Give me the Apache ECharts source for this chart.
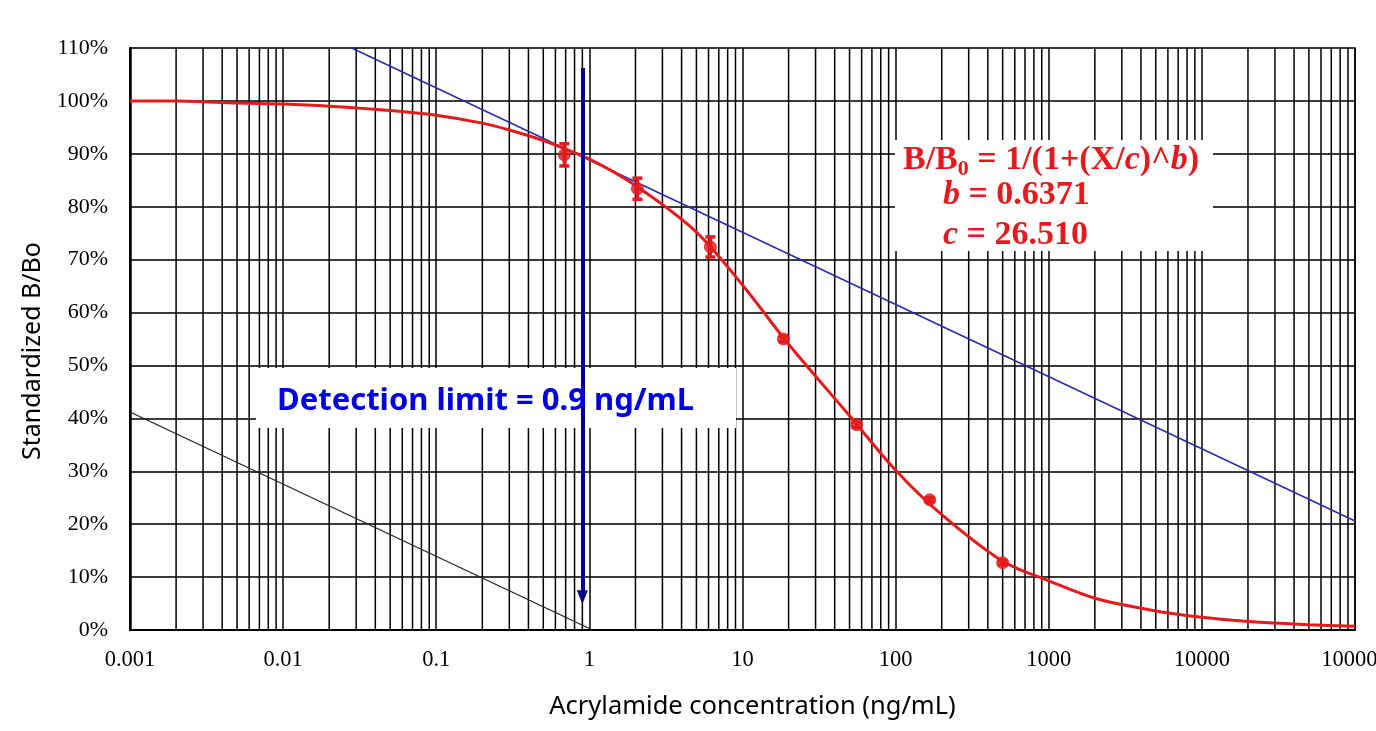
<!DOCTYPE html>
<html>
<head>
<meta charset="utf-8">
<script src="https://cdn.jsdelivr.net/npm/echarts@6/dist/echarts.min.js"></script>
<style>
  html, body { margin: 0; padding: 0; background: #fff; overflow: hidden; }
  #chart { width: 1376px; height: 731px; }
</style>
</head>
<body>
<div id="chart"></div>
<script>
// measured standards (concentration ng/mL, B/Bo %, error %)
const stdConc = [0.686, 2.06, 6.17, 18.5, 55.6, 167, 500];
const stdBB0 = [89.8, 83.4, 72.4, 55.0, 38.8, 24.6, 12.7];
const stdErr = [2.1, 2.0, 1.9, 0.5, 0.5, 0.4, 0.4];

// fitted 4PL curve
const fitConc = [0.001, 0.002, 0.005, 0.01, 0.02, 0.05, 0.1, 0.2, 0.3, 0.5, 1, 2, 5, 10, 20, 50, 100, 200, 500, 1000, 2000, 5000, 10000, 20000, 50000, 100000];
const fitBB0 = [100, 100, 99.6, 99.4, 99.0, 98.2, 97.3, 95.8, 94.5, 92.5, 89.0, 84.0, 75.2, 65.2, 54.0, 40.5, 30.2, 21.8, 13.0, 9.3, 6.0, 3.6, 2.4, 1.6, 1.0, 0.7];

// tangent at the top plateau and its parallel
const tangentConc = [0.028, 100000];
const tangentBB0 = [110, 20.6];
const parallelConc = [0.001, 1.05];
const parallelBB0 = [41.2, 0];

// detection limit arrow
const lodConc = 0.9;
const lodArrow = [106.2, 6.2];

const xTickLabels = ['0.001', '0.01', '0.1', '1', '10', '100', '1000', '10000', '100000'];
const minorMult = [2, 3, 4, 5, 6, 7, 8, 9];
const decades = [0.001, 0.01, 0.1, 1, 10, 100, 1000, 10000];

const minorGrid = [];
for (const d of decades) {
    for (const m of minorMult) minorGrid.push([d * m]);
}

const RED = '#e41a1c';
const EQ_FONT = 'Liberation Serif';
const chart = echarts.init(document.getElementById('chart'));

chart.setOption({
    animation: false,
    grid: {
        left: 130, right: 21, top: 48, bottom: 101,
        outerBoundsMode: 'none', containLabel: false,
        show: true, borderColor: '#000', borderWidth: 1.5
    },
    xAxis: {
        type: 'log', logBase: 10, min: 0.001, max: 100000, splitNumber: 8,
        name: 'Acrylamide concentration (ng/mL)', nameLocation: 'middle', nameGap: 64,
        nameTextStyle: { fontFamily: 'Noto Sans', fontSize: 25.5, color: '#000', padding: [0, 0, 0, 20] },
        axisLine: { lineStyle: { color: '#000', width: 2 } },
        axisTick: { show: false },
        axisLabel: {
            fontFamily: 'Liberation Serif', fontSize: 22.5, color: '#000', margin: 19,
            showMinLabel: true, showMaxLabel: true, hideOverlap: false,
            formatter: v => xTickLabels[Math.round(Math.log10(v)) + 3]
        },
        splitLine: { show: true, lineStyle: { color: '#000', width: 1.5 } }
    },
    yAxis: {
        type: 'value', min: 0, max: 110, interval: 10,
        name: 'Standardized B/Bo', nameLocation: 'middle', nameGap: 84,
        nameTextStyle: { fontFamily: 'Noto Sans', fontSize: 25, color: '#000', padding: [0, 24, 0, 0] },
        axisLine: { show: true, lineStyle: { color: '#000', width: 2.5 } },
        axisTick: { show: false },
        axisLabel: { fontFamily: 'Liberation Serif', fontSize: 22, color: '#000', margin: 22, formatter: '{value}%' },
        splitLine: { lineStyle: { color: '#3a3a3a', width: 2 } }
    },
    graphic: [
        { type: 'rect', z: 5, shape: { x: 256, y: 368, width: 480, height: 60 }, style: { fill: '#fff' } },
        { type: 'rect', z: 5, shape: { x: 895, y: 140, width: 318, height: 111 }, style: { fill: '#fff' } },
        {
            type: 'text', z: 20, left: 277, top: 386,
            style: { text: 'Detection limit = 0.9 ng/mL', fill: '#0000e6', font: 'bold 31px "Noto Sans"' }
        },
        {
            type: 'text', z: 20, left: 903, top: 143,
            style: {
                text: '{n|B/B}{s|0}{n| = 1/(1+(X/}{i|c}{n|)^}{i|b}{n|)}',
                rich: {
                    n: { fill: RED, fontFamily: EQ_FONT, fontWeight: 'bold', fontSize: 34, lineHeight: 40 },
                    i: { fill: RED, fontFamily: EQ_FONT, fontWeight: 'bold', fontStyle: 'italic', fontSize: 34, lineHeight: 40 },
                    s: { fill: RED, fontFamily: EQ_FONT, fontWeight: 'bold', fontSize: 22, lineHeight: 40, verticalAlign: 'bottom', padding: [14, 0, 0, 0] }
                }
            }
        },
        {
            type: 'text', z: 20, left: 943, top: 178,
            style: {
                text: '{i|b}{n| = 0.6371}\n{i|c}{n| = 26.510}',
                rich: {
                    n: { fill: RED, fontFamily: EQ_FONT, fontWeight: 'bold', fontSize: 34, lineHeight: 40 },
                    i: { fill: RED, fontFamily: EQ_FONT, fontWeight: 'bold', fontStyle: 'italic', fontSize: 34, lineHeight: 40 }
                }
            }
        }
    ],
    series: [
        {
            type: 'custom', z: 1, silent: true,
            data: minorGrid,
            encode: { x: 0 },
            renderItem: (params, api) => {
                const top = api.coord([api.value(0), 110]);
                const bot = api.coord([api.value(0), 0]);
                return { type: 'line', shape: { x1: top[0], y1: top[1], x2: bot[0], y2: bot[1] }, style: { stroke: '#000', lineWidth: 1.5 } };
            }
        },
        {
            type: 'line', z: 3, silent: true, symbol: 'none',
            data: parallelConc.map((x, i) => [x, parallelBB0[i]]),
            lineStyle: { color: '#222', width: 1.3 }
        },
        {
            type: 'line', z: 3, silent: true, symbol: 'none',
            data: tangentConc.map((x, i) => [x, tangentBB0[i]]),
            lineStyle: { color: '#2a2aa8', width: 1.5 }
        },
        {
            type: 'line', z: 4, silent: true, symbol: 'none', smooth: 0.3,
            data: fitConc.map((x, i) => [x, fitBB0[i]]),
            lineStyle: { color: RED, width: 3 }
        },
        {
            type: 'custom', z: 8, silent: true,
            data: stdConc.map((x, i) => [x, stdBB0[i] - stdErr[i], stdBB0[i] + stdErr[i]]),
            renderItem: (params, api) => {
                const lo = api.coord([api.value(0), api.value(1)]);
                const hi = api.coord([api.value(0), api.value(2)]);
                const w = 5;
                return {
                    type: 'group',
                    children: [
                        { type: 'line', shape: { x1: lo[0], y1: lo[1], x2: hi[0], y2: hi[1] }, style: { stroke: RED, lineWidth: 3.5 } },
                        { type: 'line', shape: { x1: lo[0] - w, y1: lo[1], x2: lo[0] + w, y2: lo[1] }, style: { stroke: RED, lineWidth: 3.5 } },
                        { type: 'line', shape: { x1: hi[0] - w, y1: hi[1], x2: hi[0] + w, y2: hi[1] }, style: { stroke: RED, lineWidth: 3.5 } }
                    ]
                };
            }
        },
        {
            type: 'scatter', z: 9, silent: true, symbol: 'circle', symbolSize: 12,
            data: stdConc.map((x, i) => [x, stdBB0[i]]),
            itemStyle: { color: RED, borderColor: RED, borderWidth: 1 }
        },
        {
            type: 'line', z: 10, silent: true, symbol: 'none', data: [],
            markLine: {
                silent: true, symbol: ['none', 'triangle'], symbolSize: [11, 14],
                label: { show: false },
                lineStyle: { color: '#00008b', width: 4, type: 'solid' },
                data: [[{ coord: [lodConc, lodArrow[0]] }, { coord: [lodConc, lodArrow[1]] }]]
            }
        }
    ]
});
</script>
</body>
</html>
